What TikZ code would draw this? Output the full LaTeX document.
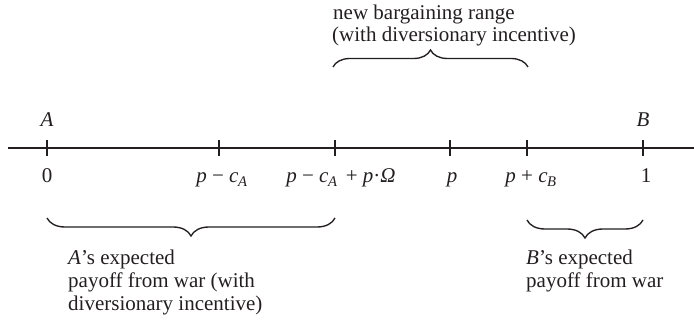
\documentclass[tikz,border=0pt]{standalone}
\usepackage{fontspec}
\setmainfont{Liberation Serif}
\usetikzlibrary{decorations.pathreplacing}
\definecolor{ink}{HTML}{231F20}
\tikzset{
  lbl/.style={font=\fontsize{21}{23}\selectfont, text=ink, inner sep=0pt, anchor=base},
  txt/.style={font=\fontsize{21}{23}\selectfont, text=ink, inner sep=0pt, anchor=base west},
  axis/.style={draw=ink, line width=1.5pt},
  tickmark/.style={draw=ink, line width=1.3pt},
  bracedown/.style={draw=ink, line width=1.35pt, decorate, decoration={brace, mirror, amplitude=18pt}},
  braceup/.style={draw=ink, line width=1.35pt, decorate, decoration={brace, amplitude=17pt}},
}
\begin{document}
\begin{tikzpicture}[x=1pt,y=1pt]
\useasboundingbox (0,0) rectangle (694,-323);
% axis
\coordinate (L) at (8,-148);
\coordinate (R) at (694,-148);
\draw[axis] (L) -- (R);
% ticks
\foreach \n/\x in {t0/47, tpc/219, tpco/335, tp/450, tpcb/527, t1/643}{
  \coordinate (\n) at (\x,-148);
  \draw[tickmark] ([yshift=7.5pt]\n) -- ([yshift=-8.5pt]\n);
}
% top labels
\node[lbl] (A) at (47,-127) {\textit{A}};
\node[lbl] (B) at (643,-127) {\textit{B}};
% bottom labels
\node[lbl] (l0) at (47,-183) {0};
\node[lbl] (lpc) at (222,-183) {\textit{p} − \textit{c}\textsubscript{\kern-0.5pt\textit{A}}};
\node[lbl] (lpco) at (341,-183) {\textit{p} − \textit{c}\textsubscript{\kern-0.5pt\textit{A}}\kern3pt{} + \textit{p}·\textit{Ω}};
\node[lbl] (lp) at (452,-183) {\textit{p}};
\node[lbl] (lpcb) at (531,-183) {\textit{p} + \textit{c}\textsubscript{\kern-0.5pt\textit{B}}};
\node[lbl] (l1) at (646,-183) {1};
% top brace
\coordinate (tb1) at (333,-67);
\coordinate (tb2) at (528,-67);
\draw[braceup] (tb1) -- (tb2);
\node[txt] (top1) at (333,-20) {new bargaining range};
\node[txt] (top2) at (332,-42) {(with diversionary incentive)};
% bottom left brace
\coordinate (bl1) at (47,-218);
\coordinate (bl2) at (335,-218);
\draw[bracedown] (bl1) -- (bl2);
\node[txt] (la1) at (68,-265) {\textit{A}’s expected};
\node[txt] (la2) at (68,-288) {payoff from war (with};
\node[txt] (la3) at (68,-311) {diversionary incentive)};
% bottom right brace
\coordinate (br1) at (527,-220);
\coordinate (br2) at (643,-220);
\draw[bracedown] (br1) -- (br2);
\node[txt] (rb1) at (526,-265) {\textit{B}’s expected};
\node[txt] (rb2) at (526,-288) {payoff from war};
\end{tikzpicture}
\end{document}
